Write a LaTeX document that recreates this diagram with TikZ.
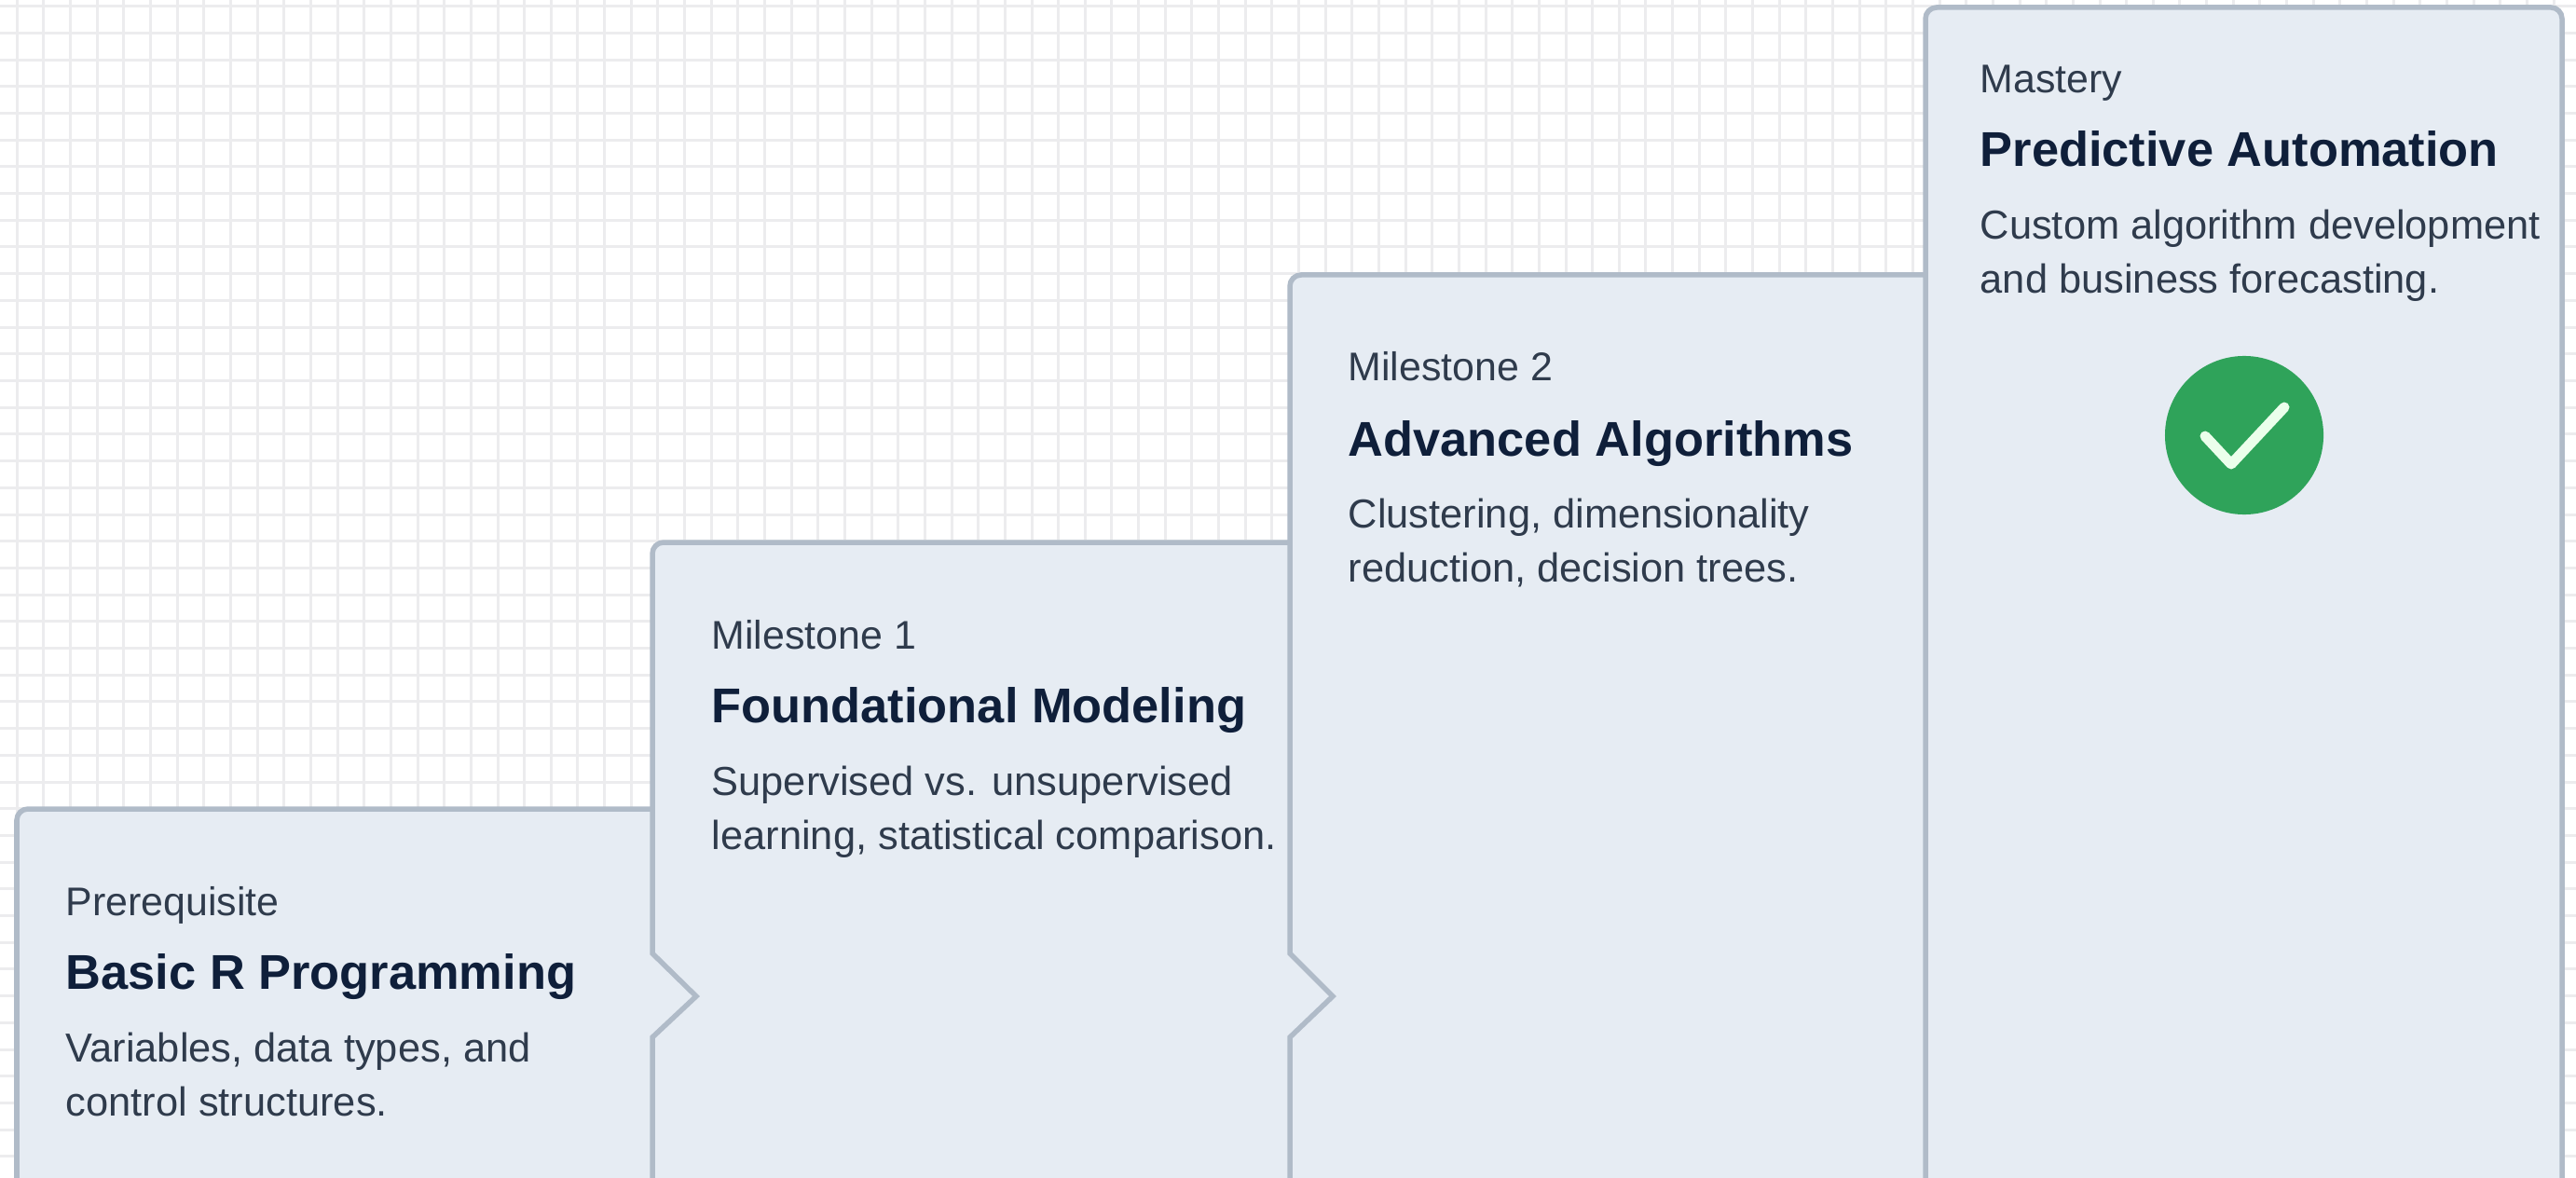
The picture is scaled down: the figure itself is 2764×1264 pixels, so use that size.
\documentclass[tikz,border=0pt]{standalone}
\usepackage{fontspec}
\setmainfont{Liberation Sans}
\definecolor{gridgray}{HTML}{ECECEE}
\definecolor{boxfill}{HTML}{E6ECF3}
\definecolor{boxline}{HTML}{B0BBC8}
\definecolor{titleink}{HTML}{0F1F3A}
\definecolor{bodyink}{HTML}{2F3B4C}
\definecolor{donegreen}{HTML}{2FA35A}
\tikzset{
  gridline/.style={draw=gridgray, line width=0.03cm},
  stepbox/.style={fill=boxfill, draw=boxline, line width=0.055cm, line join=miter},
  kicker/.style={anchor=base west, inner sep=0pt, text=bodyink, font=\fontsize{12.2}{14}\selectfont},
  headline/.style={anchor=base west, inner sep=0pt, text=titleink, font=\fontsize{14.9}{18}\bfseries\selectfont},
  blurb/.style={anchor=north west, inner sep=0pt, align=left, text=bodyink, font=\fontsize{12.35}{16.5}\selectfont},
  donedot/.style={circle, fill=donegreen, inner sep=0pt, minimum size=1.7cm},
  donecheck/.style={draw=white!92!green, line width=0.11cm, line cap=round, line join=round}
}
\begin{document}
\begin{tikzpicture}[x=0.01cm, y=-0.01cm]
  \useasboundingbox (0,0) rectangle (2764,1264);
  \fill[white] (0,0) rectangle (2764,1264);

  % paper grid
  \foreach \gx in {0,...,95}
    \draw[gridline] ({18.3+28.65*\gx},0) -- ({18.3+28.65*\gx},1264);
  \foreach \gy in {0,...,43}
    \draw[gridline] (0,{6.7+28.7*\gy}) -- (2764,{6.7+28.7*\gy});

  % steps, last one first so the notches lie on top
  \filldraw[stepbox] (2066,1264) [rounded corners=0.12cm] -- (2066,8) -- (2749,8) -- (2749,1264);
  \filldraw[stepbox] (1384,1264) [rounded corners=0.12cm] -- (1384,295) [sharp corners] -- (2066,295) -- (2066,1264);
  \filldraw[stepbox] (700,1264) [rounded corners=0.12cm] -- (700,582) [sharp corners] -- (1384,582) -- (1384,1023) -- (1430,1069) -- (1384,1113) -- (1384,1264);
  \filldraw[stepbox] (18,1264) [rounded corners=0.12cm] -- (18,868) [sharp corners] -- (700,868) -- (700,1023) -- (747,1069) -- (700,1113) -- (700,1264);

  % prerequisite
  \node[kicker] (prereqkick) at (70,982) {Prerequisite};
  \node[headline] (prereqhead) at (70,1061) {Basic R Programming};
  \node[blurb] (prereqtext) at (70,1107) {Variables, data types, and\\control structures.};

  % milestone 1
  \node[kicker] (onekick) at (763,696) {Milestone 1};
  \node[headline] (onehead) at (763,775) {Foundational Modeling};
  \node[blurb] (onetext) at (763,821) {Supervised vs. unsupervised\\learning, statistical comparison.};

  % milestone 2
  \node[kicker] (twokick) at (1446,409) {Milestone 2};
  \node[headline] (twohead) at (1446,489) {Advanced Algorithms};
  \node[blurb] (twotext) at (1446,534) {Clustering, dimensionality\\reduction, decision trees.};

  % mastery
  \node[kicker] (lastkick) at (2124,100) {Mastery};
  \node[headline] (lasthead) at (2124,179) {Predictive Automation};
  \node[blurb] (lasttext) at (2124,224) {Custom algorithm development\\and business forecasting.};

  \node[donedot] (done) at (2408,467) {};
  \draw[donecheck] (2366,468) -- (2394,498) -- (2451,437);
\end{tikzpicture}
\end{document}
